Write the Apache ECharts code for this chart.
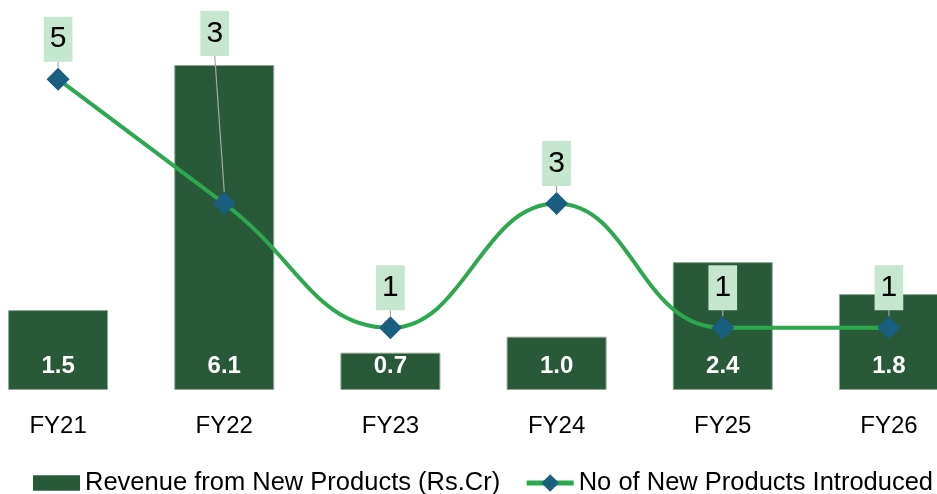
<!DOCTYPE html>
<html>
<head>
<meta charset="utf-8">
<script src="https://cdn.jsdelivr.net/npm/echarts@6/dist/echarts.min.js"></script>
<style>
  html, body { margin: 0; padding: 0; background: #ffffff; overflow: hidden; width: 937px; height: 494px; position: relative; }
  /* The plot runs past both page edges, so the canvas is wider than the page */
  #chart { position: absolute; left: -25px; top: 0; width: 997px; height: 494px; }
</style>
</head>
<body>
<div id="chart"></div>
<script>
// Fiscal years on the x axis
const years = ['FY21', 'FY22', 'FY23', 'FY24', 'FY25', 'FY26'];
// Revenue from new products, Rs. crore
const revenue = [1.5, 6.1, 0.7, 1.0, 2.4, 1.8];
// Count of new products launched each year
const newProducts = [5, 3, 1, 3, 1, 1];

const FONT = '"Liberation Sans", Arial, sans-serif';

const chart = echarts.init(document.getElementById('chart'), null, { renderer: 'canvas' });

chart.setOption({
  animation: false,
  backgroundColor: '#ffffff',
  textStyle: { fontFamily: FONT },
  grid: { left: 0, right: 0, top: 17, bottom: 104, containLabel: false },
  legend: {
    left: 53,
    top: 465,
    itemWidth: 47,
    itemHeight: 22,
    itemGap: 24,
    symbolKeepAspect: true,
    textStyle: { fontFamily: FONT, fontSize: 25.5, color: '#000000' },
    data: [
      {
        name: 'Revenue from New Products (Rs.Cr)',
        icon: 'path://M0,0H45V15H0Z',
        itemStyle: { borderWidth: 0 }
      },
      {
        name: 'No of New Products Introduced',
        lineStyle: { width: 5 }
      }
    ]
  },
  xAxis: {
    type: 'category',
    data: years,
    axisLine: { show: false },
    axisTick: { show: false },
    axisLabel: { fontFamily: FONT, fontSize: 24, color: '#000000', margin: 24 }
  },
  yAxis: [
    { type: 'value', min: 0, max: 7, show: false, splitLine: { show: false } },
    { type: 'value', min: 0, max: 6, show: false, splitLine: { show: false } }
  ],
  series: [
    {
      name: 'Revenue from New Products (Rs.Cr)',
      type: 'bar',
      yAxisIndex: 0,
      data: revenue,
      barWidth: 100,
      itemStyle: { color: '#285A3A', borderColor: '#8FA896', borderWidth: 1 },
      label: {
        show: true,
        position: 'insideBottom',
        distance: 12,
        fontFamily: FONT,
        fontSize: 24,
        fontWeight: 'bold',
        color: '#ffffff',
        formatter: p => p.value.toFixed(1)
      },
      z: 1
    },
    {
      name: 'No of New Products Introduced',
      type: 'line',
      yAxisIndex: 1,
      data: newProducts,
      smooth: 0.45,
      symbol: 'diamond',
      symbolSize: 23,
      lineStyle: { color: '#2DA84E', width: 4 },
      itemStyle: { color: '#1A5E80' },
      label: {
        show: true,
        position: 'top',
        distance: 6,
        fontFamily: FONT,
        fontSize: 30,
        lineHeight: 31,
        color: '#000000',
        backgroundColor: '#C5E6CF',
        padding: [7, 6, 7, 6]
      },
      labelLine: {
        show: true,
        lineStyle: { color: '#A6A6A6', width: 1.2 }
      },
      labelLayout: function (params) {
        if (params.dataIndex === 1) {
          return { dx: -9.5, dy: -130 };
        }
        return {};
      },
      z: 3
    }
  ]
});
</script>
</body>
</html>
